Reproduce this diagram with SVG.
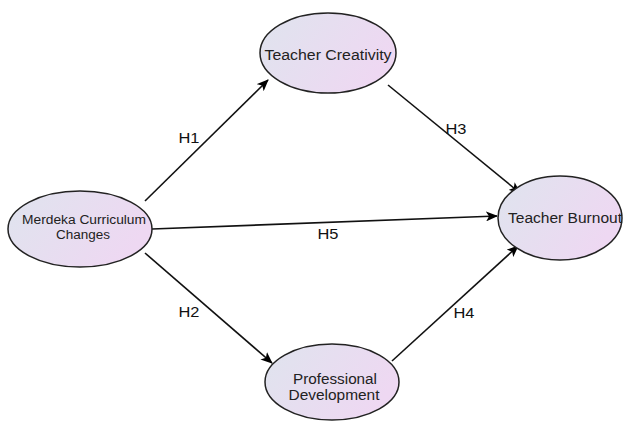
<svg xmlns="http://www.w3.org/2000/svg" width="624" height="427" viewBox="0 0 624 427">
<defs>
<linearGradient id="g" x1="0" y1="0" x2="1" y2="0.4">
<stop offset="0" stop-color="#dfe4ee"/>
<stop offset="1" stop-color="#eed8f2"/>
</linearGradient>
<marker id="a" markerWidth="12" markerHeight="10" refX="11" refY="5" orient="auto" markerUnits="userSpaceOnUse">
<path d="M0,0 L12,5 L0,10 L3,5 Z" fill="#000"/>
</marker>
</defs>
<style>
.n{fill:url(#g);stroke:#222;stroke-width:1.5}
.t{font-family:"Liberation Sans",Arial,sans-serif;font-size:14px;fill:#222;text-anchor:middle}
.s{font-size:12px}
.e{stroke:#111;stroke-width:1.6;fill:none;marker-end:url(#a)}
.l{font-family:"Liberation Sans",Arial,sans-serif;font-size:14px;fill:#111;text-anchor:middle}
</style>
<rect width="624" height="427" fill="#fff"/>
<g id="connectors">
<line class="e" x1="145" y1="201" x2="268" y2="80"/>
<line class="e" x1="388" y1="85" x2="520" y2="193"/>
<line class="e" x1="152" y1="229" x2="497" y2="216"/>
<line class="e" x1="145" y1="253" x2="272" y2="363"/>
<line class="e" x1="392" y1="361" x2="518" y2="246"/>
<text class="l" x="189" y="143" textLength="21" lengthAdjust="spacingAndGlyphs">H1</text>
<text class="l" x="456" y="134" textLength="21" lengthAdjust="spacingAndGlyphs">H3</text>
<text class="l" x="328" y="239" textLength="21" lengthAdjust="spacingAndGlyphs">H5</text>
<text class="l" x="189" y="317" textLength="21" lengthAdjust="spacingAndGlyphs">H2</text>
<text class="l" x="464" y="318" textLength="21" lengthAdjust="spacingAndGlyphs">H4</text>
</g>
<g id="merdeka">
<ellipse class="n" cx="80" cy="229" rx="72" ry="38"/>
<text class="t s" x="84" y="224" textLength="124" lengthAdjust="spacingAndGlyphs">Merdeka Curriculum</text>
<text class="t s" x="83" y="239" textLength="54" lengthAdjust="spacingAndGlyphs">Changes</text>
</g>
<g id="creativity">
<ellipse class="n" cx="328" cy="53" rx="68" ry="40"/>
<text class="t" x="328" y="60" textLength="127" lengthAdjust="spacingAndGlyphs">Teacher Creativity</text>
</g>
<g id="burnout">
<ellipse class="n" cx="560" cy="218" rx="62" ry="42"/>
<text class="t" x="565" y="223" textLength="114" lengthAdjust="spacingAndGlyphs">Teacher Burnout</text>
</g>
<g id="professional">
<ellipse class="n" cx="332" cy="382" rx="67" ry="38"/>
<text class="t" x="335" y="384" textLength="84" lengthAdjust="spacingAndGlyphs">Professional</text>
<text class="t" x="334" y="400" textLength="91" lengthAdjust="spacingAndGlyphs">Development</text>
</g>
</svg>
